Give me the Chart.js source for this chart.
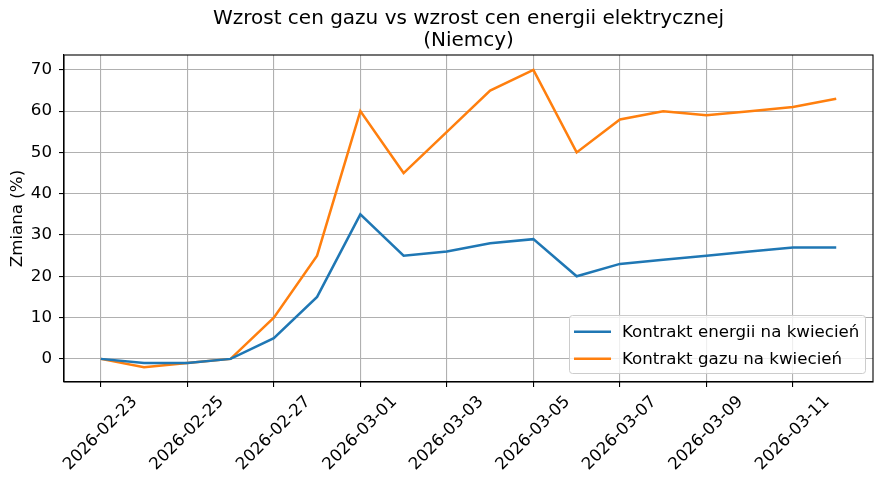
<!DOCTYPE html>
<html>
<head>
<meta charset="utf-8">
<script src="https://cdn.jsdelivr.net/npm/chart.js@4.4.1/dist/chart.umd.min.js"></script>
<style>
  html, body { margin: 0; padding: 0; background: #fff; }
  #wrap { width: 884px; height: 483px; }
</style>
</head>
<body>
<div id="wrap"><canvas id="c" width="884" height="483"></canvas></div>
<script>
const dates = ["2026-02-23","2026-02-24","2026-02-25","2026-02-26","2026-02-27","2026-02-28",
  "2026-03-01","2026-03-02","2026-03-03","2026-03-04","2026-03-05","2026-03-06",
  "2026-03-07","2026-03-08","2026-03-09","2026-03-10","2026-03-11","2026-03-12"];
const energyValues = [0, -1, -1, 0, 5, 15, 35, 25, 26, 28, 29, 20, 23, 24, 25, 26, 27, 27];
const gasValues    = [0, -2, -1, 0, 10, 25, 60, 45, 55, 65, 70, 50, 58, 60, 59, 60, 61, 63];
const xTickIndices = [0, 2, 4, 6, 8, 10, 12, 14, 16];
const yTickValues  = [0, 10, 20, 30, 40, 50, 60, 70];
const seriesNames  = ["Kontrakt energii na kwiecień", "Kontrakt gazu na kwiecień"];
const titleLines   = ["Wzrost cen gazu vs wzrost cen energii elektrycznej", "(Niemcy)"];
const yTitle       = "Zmiana (%)";

const FONT = "'DejaVu Sans', sans-serif";

const framePlugin = {
  id: 'frame',
  afterDatasetsDraw(chart) {
    const {ctx, chartArea: a} = chart;
    ctx.save();
    ctx.strokeStyle = '#000';
    ctx.lineWidth = 1.1;
    ctx.strokeRect(a.left, a.top, a.right - a.left, a.bottom - a.top);
    ctx.restore();
  }
};

const legendPlugin = {
  id: 'customLegend',
  afterDraw(chart) {
    const ctx = chart.ctx;
    const ds = chart.data.datasets;
    const x = 569.5, y = 315.5, w = 296, h = 58, r = 3;
    ctx.save();
    ctx.beginPath();
    ctx.moveTo(x + r, y);
    ctx.lineTo(x + w - r, y); ctx.arcTo(x + w, y, x + w, y + r, r);
    ctx.lineTo(x + w, y + h - r); ctx.arcTo(x + w, y + h, x + w - r, y + h, r);
    ctx.lineTo(x + r, y + h); ctx.arcTo(x, y + h, x, y + h - r, r);
    ctx.lineTo(x, y + r); ctx.arcTo(x, y, x + r, y, r);
    ctx.closePath();
    ctx.fillStyle = 'rgba(255,255,255,0.8)';
    ctx.fill();
    ctx.strokeStyle = '#cccccc';
    ctx.lineWidth = 1;
    ctx.stroke();
    ds.forEach((d, i) => {
      const ly = 331.7 + i * 27;
      ctx.beginPath();
      ctx.moveTo(574, ly); ctx.lineTo(611, ly);
      ctx.strokeStyle = d.borderColor;
      ctx.lineWidth = 2.5;
      ctx.stroke();
      ctx.fillStyle = '#000';
      ctx.font = "16.67px " + FONT;
      ctx.textBaseline = 'middle';
      ctx.textAlign = 'left';
      ctx.fillText(d.label, 622, ly + 1);
    });
    ctx.restore();
  }
};

new Chart(document.getElementById('c'), {
  type: 'line',
  data: {
    datasets: [
      { label: seriesNames[0], data: energyValues.map((v, i) => ({x: i, y: v})),
        borderColor: '#1f77b4', backgroundColor: '#1f77b4', borderWidth: 2.5,
        pointRadius: 0, tension: 0, fill: false },
      { label: seriesNames[1], data: gasValues.map((v, i) => ({x: i, y: v})),
        borderColor: '#ff7f0e', backgroundColor: '#ff7f0e', borderWidth: 2.5,
        pointRadius: 0, tension: 0, fill: false }
    ]
  },
  options: {
    responsive: false,
    animation: false,
    devicePixelRatio: 1,
    layout: { padding: { left: 0, right: 11, top: 0, bottom: 0 } },
    plugins: {
      legend: { display: false },
      tooltip: { enabled: false },
      title: {
        display: true,
        fullSize: false,
        text: titleLines,
        color: '#000',
        font: { family: FONT, size: 20, weight: 'normal', lineHeight: 1.1 },
        padding: { top: 8, bottom: 3 }
      }
    },
    scales: {
      x: {
        type: 'linear',
        min: -0.85, max: 17.85,
        afterBuildTicks(scale) { scale.ticks = xTickIndices.map(v => ({value: v})); },
        afterFit(scale) { scale.height = 101; },
        ticks: {
          autoSkip: false,
          minRotation: 45, maxRotation: 45,
          labelOffset: 34,
          padding: 5,
          color: '#000',
          font: { family: FONT, size: 16.67 },
          callback: (v) => dates[v]
        },
        grid: { color: '#b0b0b0', lineWidth: 1.1, tickColor: '#000', tickLength: 5, drawTicks: true },
        border: { color: '#000', width: 1.1 }
      },
      y: {
        min: -5.6, max: 73.6,
        afterBuildTicks(scale) { scale.ticks = yTickValues.map(v => ({value: v})); },
        afterFit(scale) { scale.width = 64; },
        ticks: {
          padding: 7,
          color: '#000',
          font: { family: FONT, size: 16.67 }
        },
        title: {
          display: true,
          text: yTitle,
          color: '#000',
          font: { family: FONT, size: 16.67 },
          padding: { top: 8, bottom: 0 }
        },
        grid: { color: '#b0b0b0', lineWidth: 1.1, tickColor: '#000', tickLength: 5, drawTicks: true },
        border: { color: '#000', width: 1.1 }
      }
    }
  },
  plugins: [framePlugin, legendPlugin]
});
</script>
</body>
</html>
